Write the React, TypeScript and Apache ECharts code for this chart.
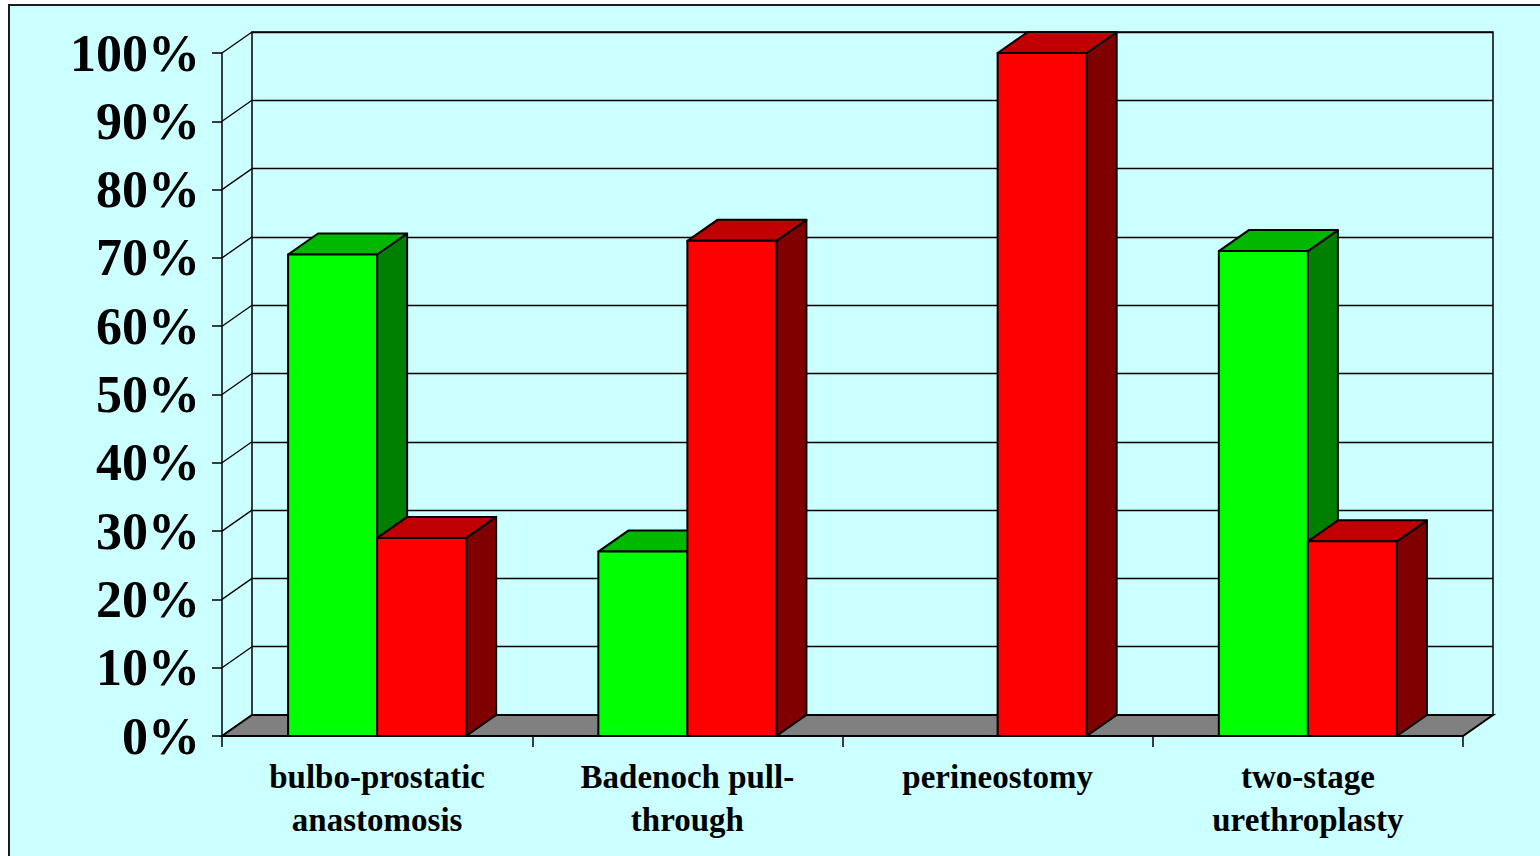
import React, { useEffect, useRef } from "react";
import * as echarts from "echarts";

const categories = [
  "bulbo-prostatic\nanastomosis",
  "Badenoch pull-\nthrough",
  "perineostomy",
  "two-stage\nurethroplasty",
];
const greenValues = [70.5, 27, 0, 71];
const redValues = [29, 72.5, 100, 28.5];
const yTicks = [0, 10, 20, 30, 40, 50, 60, 70, 80, 90, 100];

const DX = 30;
const DY = -21;
const BAR_RATIO = 0.287;
const FONT = "'Liberation Serif', 'Times New Roman', serif";

function barRenderer(side: number, front: string, top: string, right: string) {
  return (params: any, api: any) => {
    const idx = api.value(0);
    const v = api.value(1);
    if (!v) return null;
    const pTop = api.coord([idx, v]);
    const pBase = api.coord([idx, 0]);
    const catW = api.size([1, 0])[0];
    const w = catW * BAR_RATIO;
    const x0 = side === 0 ? pTop[0] - w : pTop[0];
    const x1 = x0 + w;
    const yT = pTop[1];
    const yB = pBase[1];
    const st = { stroke: "#000", lineWidth: 2, lineJoin: "round" };
    return {
      type: "group",
      children: [
        {
          type: "polygon",
          shape: { points: [[x1, yT], [x1 + DX, yT + DY], [x1 + DX, yB + DY], [x1, yB]] },
          style: { ...st, fill: right },
        },
        {
          type: "polygon",
          shape: { points: [[x0, yT], [x1, yT], [x1 + DX, yT + DY], [x0 + DX, yT + DY]] },
          style: { ...st, fill: top },
        },
        {
          type: "rect",
          shape: { x: x0, y: yT, width: w, height: yB - yT },
          style: { ...st, fill: front },
        },
      ],
    };
  };
}

export default function App() {
  const ref = useRef<HTMLDivElement>(null);
  useEffect(() => {
    if (!ref.current) return;
    const chart = echarts.init(ref.current, null, { renderer: "svg" });
    const option: any = {
      animation: false,
      backgroundColor: "#ffffff",
      graphic: [
        {
          type: "rect",
          z: -100,
          zlevel: 0,
          shape: { x: 9, y: 5, width: 1560, height: 880 },
          style: { fill: "#CCFFFF", stroke: "#1a1a1a", lineWidth: 2 },
        },
      ],
      grid: [
        { left: 222, top: 53, width: 1241, height: 683, containLabel: false },
        {
          left: 222 + DX,
          top: 53 + DY,
          width: 1241,
          height: 683,
          show: true,
          borderColor: "#000",
          borderWidth: 1.5,
          backgroundColor: "transparent",
          z: 1,
        },
      ],
      xAxis: [
        {
          type: "category",
          gridIndex: 0,
          data: categories,
          boundaryGap: true,
          axisLine: { show: true, lineStyle: { color: "#000", width: 1.5 } },
          axisTick: { show: true, length: 11, alignWithLabel: false, lineStyle: { color: "#000", width: 1.5 } },
          axisLabel: {
            interval: 0,
            margin: 19,
            color: "#000",
            fontFamily: FONT,
            fontWeight: "bold",
            fontSize: 33,
            lineHeight: 43,
          },
          splitLine: { show: false },
          z: 5,
        },
        {
          type: "category",
          gridIndex: 1,
          data: categories,
          show: false,
        },
      ],
      yAxis: [
        {
          type: "value",
          gridIndex: 0,
          min: 0,
          max: 100,
          interval: 10,
          axisLine: { show: true, lineStyle: { color: "#000", width: 1.5 } },
          axisTick: { show: true, length: 10, lineStyle: { color: "#000", width: 1.5 } },
          axisLabel: {
            formatter: "{value}%",
            margin: 22,
            color: "#000",
            fontFamily: FONT,
            fontWeight: "bold",
            fontSize: 52,
          },
          splitLine: { show: false },
          z: 5,
        },
        {
          type: "value",
          gridIndex: 1,
          min: 0,
          max: 100,
          interval: 10,
          axisLine: { show: false },
          axisTick: { show: false },
          axisLabel: { show: false },
          splitLine: { show: true, lineStyle: { color: "#000", width: 1.3 } },
        },
      ],
      series: [
        {
          type: "custom",
          name: "sideWall",
          xAxisIndex: 0,
          yAxisIndex: 0,
          clip: false,
          silent: true,
          z: 2,
          data: yTicks.map((v) => [0, v]),
          encode: { x: 0, y: 1 },
          renderItem: (params: any, api: any) => {
            const cs = params.coordSys;
            const y = api.coord([0, api.value(1)])[1];
            return {
              type: "line",
              shape: { x1: cs.x, y1: y, x2: cs.x + DX, y2: y + DY },
              style: { stroke: "#000", lineWidth: 1.3 },
            };
          },
        },
        {
          type: "custom",
          name: "floor",
          xAxisIndex: 0,
          yAxisIndex: 0,
          clip: false,
          silent: true,
          z: 3,
          data: [[0, 0]],
          encode: { x: 0, y: 1 },
          renderItem: (params: any, api: any) => {
            const cs = params.coordSys;
            const y0 = api.coord([0, 0])[1];
            const xa = cs.x;
            const xb = cs.x + cs.width;
            return {
              type: "polygon",
              shape: {
                points: [
                  [xa, y0],
                  [xb, y0],
                  [xb + DX, y0 + DY],
                  [xa + DX, y0 + DY],
                ],
              },
              style: { fill: "#808080", stroke: "#000", lineWidth: 2 },
            };
          },
        },
        {
          type: "custom",
          name: "green",
          xAxisIndex: 0,
          yAxisIndex: 0,
          clip: false,
          z: 6,
          data: greenValues.map((v, i) => [i, v]),
          encode: { x: 0, y: 1 },
          renderItem: barRenderer(0, "#00FF00", "#00B800", "#008000"),
        },
        {
          type: "custom",
          name: "red",
          xAxisIndex: 0,
          yAxisIndex: 0,
          clip: false,
          z: 7,
          data: redValues.map((v, i) => [i, v]),
          encode: { x: 0, y: 1 },
          renderItem: barRenderer(1, "#FF0000", "#C00000", "#800000"),
        },
      ],
    };
    chart.setOption(option);
    return () => chart.dispose();
  }, []);
  return (
    <div
      ref={ref}
      style={{ position: "fixed", left: 0, top: 0, width: 1540, height: 856 }}
    />
  );
}
